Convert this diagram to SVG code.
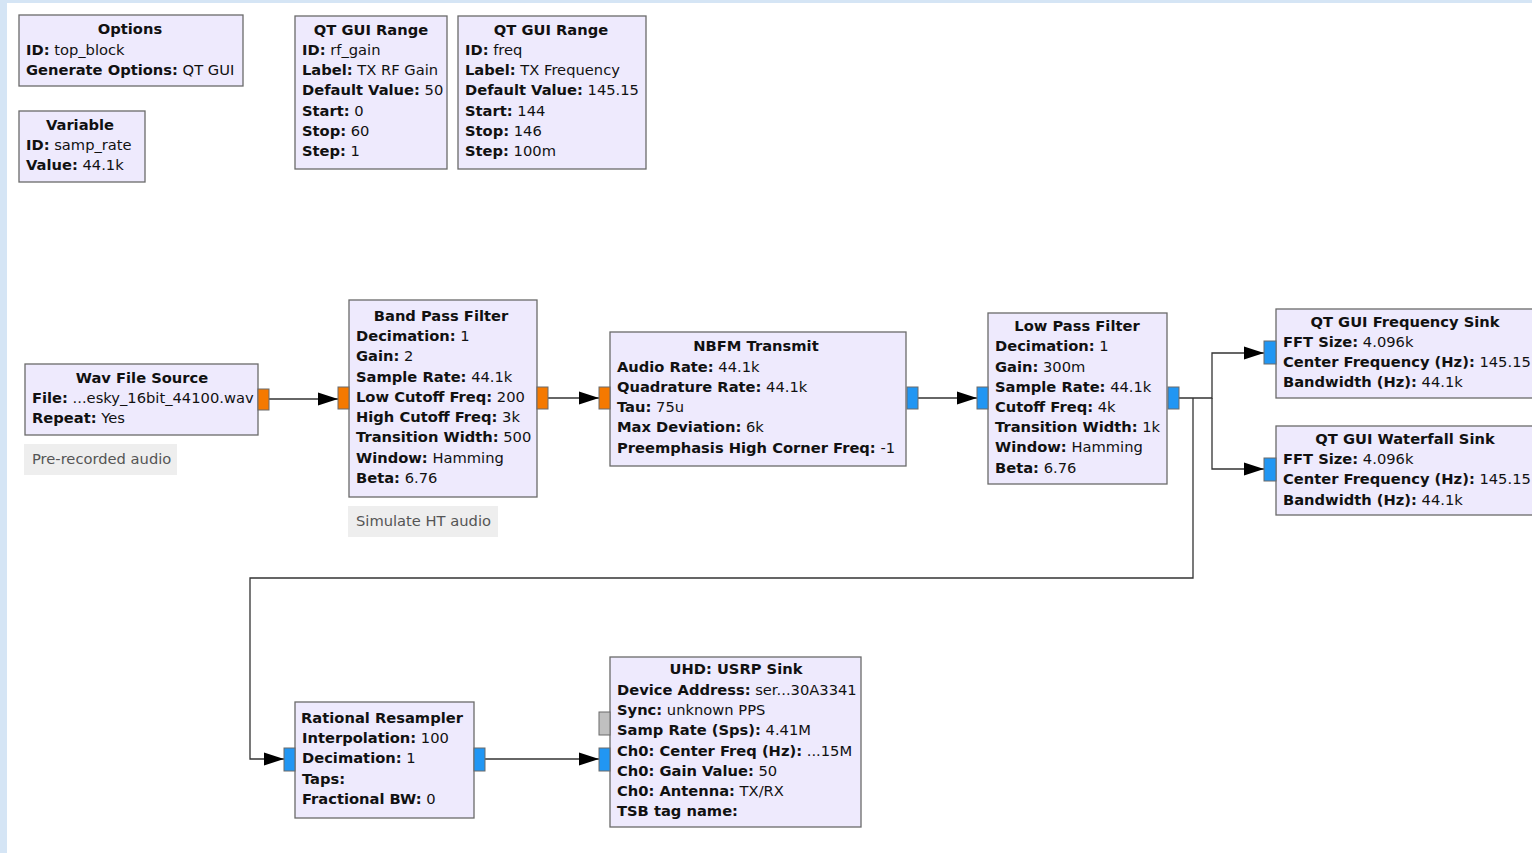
<svg xmlns="http://www.w3.org/2000/svg" width="1532" height="853" viewBox="0 0 1532 853">
  <defs>
    <marker id="arrow" markerUnits="userSpaceOnUse" markerWidth="20" markerHeight="14" refX="20" refY="7" orient="auto">
      <path d="M0,0.5 L20,7 L0,13.5 z" fill="#000"/>
    </marker>
    <style>
      .blk { fill: #eeeafd; stroke: #6a6a6a; stroke-width: 1.3; }
      .t { font-family: "DejaVu Sans", sans-serif; font-size: 14.7px; fill: #111; }
      .ttl { font-weight: bold; text-anchor: middle; }
      .b { font-weight: bold; }
      .pf { fill: #f57900; stroke: #6a6a6a; stroke-width: 1; }
      .pc { fill: #2196f3; stroke: #6a6a6a; stroke-width: 1; }
      .pm { fill: #c0c0c0; stroke: #6a6a6a; stroke-width: 1; }
      .wire { fill: none; stroke: #333; stroke-width: 1.3; }
      .cbg { fill: #eeeeee; }
      .ctx { font-family: "DejaVu Sans", sans-serif; font-size: 14.7px; fill: #555; }
    </style>
  </defs>

  <!-- canvas -->
  <rect x="0" y="0" width="1532" height="853" fill="#d5e5f5"/>
  <rect x="7" y="3" width="1525" height="850" fill="#ffffff"/>

  <!-- connectors -->
  <g id="connectors">
    <path class="wire" d="M269,399 H338" marker-end="url(#arrow)"/>
    <path class="wire" d="M548,398 H599" marker-end="url(#arrow)"/>
    <path class="wire" d="M918,398 H977" marker-end="url(#arrow)"/>
    <path class="wire" d="M1179,398 H1212 V353 H1264" marker-end="url(#arrow)"/>
    <path class="wire" d="M1212,398 V469 H1264" marker-end="url(#arrow)"/>
    <path class="wire" d="M1193,398 V578 H250 V759 H284" marker-end="url(#arrow)"/>
    <path class="wire" d="M485,759 H599" marker-end="url(#arrow)"/>
  </g>

  <g id="options">
    <rect class="blk" x="19" y="15" width="224" height="71"/>
    <text class="t ttl" x="130" y="34">Options</text>
    <text class="t" x="26" y="55"><tspan class="b">ID:</tspan> top_block</text>
    <text class="t" x="26" y="75"><tspan class="b">Generate Options:</tspan> QT GUI</text>
  </g>

  <g id="variable">
    <rect class="blk" x="19" y="111" width="126" height="71"/>
    <text class="t ttl" x="80" y="130">Variable</text>
    <text class="t" x="26" y="150"><tspan class="b">ID:</tspan> samp_rate</text>
    <text class="t" x="26" y="170"><tspan class="b">Value:</tspan> 44.1k</text>
  </g>

  <g id="range_rf_gain">
    <rect class="blk" x="295" y="16" width="152" height="153"/>
    <text class="t ttl" x="371" y="35">QT GUI Range</text>
    <text class="t" x="302" y="55"><tspan class="b">ID:</tspan> rf_gain</text>
    <text class="t" x="302" y="75"><tspan class="b">Label:</tspan> TX RF Gain</text>
    <text class="t" x="302" y="95"><tspan class="b">Default Value:</tspan> 50</text>
    <text class="t" x="302" y="116"><tspan class="b">Start:</tspan> 0</text>
    <text class="t" x="302" y="136"><tspan class="b">Stop:</tspan> 60</text>
    <text class="t" x="302" y="156"><tspan class="b">Step:</tspan> 1</text>
  </g>

  <g id="range_freq">
    <rect class="blk" x="458" y="16" width="188" height="153"/>
    <text class="t ttl" x="551" y="35">QT GUI Range</text>
    <text class="t" x="465" y="55"><tspan class="b">ID:</tspan> freq</text>
    <text class="t" x="465" y="75"><tspan class="b">Label:</tspan> TX Frequency</text>
    <text class="t" x="465" y="95"><tspan class="b">Default Value:</tspan> 145.15</text>
    <text class="t" x="465" y="116"><tspan class="b">Start:</tspan> 144</text>
    <text class="t" x="465" y="136"><tspan class="b">Stop:</tspan> 146</text>
    <text class="t" x="465" y="156"><tspan class="b">Step:</tspan> 100m</text>
  </g>

  <g id="wav_source">
    <rect class="blk" x="25" y="364" width="233" height="71"/>
    <rect class="pf" x="258" y="389" width="11" height="21"/>
    <text class="t ttl" x="142" y="383">Wav File Source</text>
    <text class="t" x="32" y="403"><tspan class="b">File:</tspan> ...esky_16bit_44100.wav</text>
    <text class="t" x="32" y="423"><tspan class="b">Repeat:</tspan> Yes</text>
    <rect class="cbg" x="24" y="444" width="153" height="31"/>
    <text class="ctx" x="32" y="464">Pre-recorded audio</text>
  </g>

  <g id="band_pass">
    <rect class="blk" x="349" y="300" width="188" height="197"/>
    <rect class="pf" x="338" y="387" width="11" height="22"/>
    <rect class="pf" x="537" y="387" width="11" height="22"/>
    <text class="t ttl" x="441" y="321">Band Pass Filter</text>
    <text class="t" x="356" y="341"><tspan class="b">Decimation:</tspan> 1</text>
    <text class="t" x="356" y="361"><tspan class="b">Gain:</tspan> 2</text>
    <text class="t" x="356" y="382"><tspan class="b">Sample Rate:</tspan> 44.1k</text>
    <text class="t" x="356" y="402"><tspan class="b">Low Cutoff Freq:</tspan> 200</text>
    <text class="t" x="356" y="422"><tspan class="b">High Cutoff Freq:</tspan> 3k</text>
    <text class="t" x="356" y="442"><tspan class="b">Transition Width:</tspan> 500</text>
    <text class="t" x="356" y="463"><tspan class="b">Window:</tspan> Hamming</text>
    <text class="t" x="356" y="483"><tspan class="b">Beta:</tspan> 6.76</text>
    <rect class="cbg" x="348" y="506" width="150" height="31"/>
    <text class="ctx" x="356" y="526">Simulate HT audio</text>
  </g>

  <g id="nbfm_tx">
    <rect class="blk" x="610" y="332" width="296" height="134"/>
    <rect class="pf" x="599" y="387" width="11" height="22"/>
    <rect class="pc" x="907" y="387" width="11" height="22"/>
    <text class="t ttl" x="756" y="351">NBFM Transmit</text>
    <text class="t" x="617" y="372"><tspan class="b">Audio Rate:</tspan> 44.1k</text>
    <text class="t" x="617" y="392"><tspan class="b">Quadrature Rate:</tspan> 44.1k</text>
    <text class="t" x="617" y="412"><tspan class="b">Tau:</tspan> 75u</text>
    <text class="t" x="617" y="432"><tspan class="b">Max Deviation:</tspan> 6k</text>
    <text class="t" x="617" y="453"><tspan class="b">Preemphasis High Corner Freq:</tspan> -1</text>
  </g>

  <g id="low_pass">
    <rect class="blk" x="988" y="313" width="179" height="171"/>
    <rect class="pc" x="977" y="387" width="11" height="22"/>
    <rect class="pc" x="1168" y="387" width="11" height="22"/>
    <text class="t ttl" x="1077" y="331">Low Pass Filter</text>
    <text class="t" x="995" y="351"><tspan class="b">Decimation:</tspan> 1</text>
    <text class="t" x="995" y="372"><tspan class="b">Gain:</tspan> 300m</text>
    <text class="t" x="995" y="392"><tspan class="b">Sample Rate:</tspan> 44.1k</text>
    <text class="t" x="995" y="412"><tspan class="b">Cutoff Freq:</tspan> 4k</text>
    <text class="t" x="995" y="432"><tspan class="b">Transition Width:</tspan> 1k</text>
    <text class="t" x="995" y="452"><tspan class="b">Window:</tspan> Hamming</text>
    <text class="t" x="995" y="473"><tspan class="b">Beta:</tspan> 6.76</text>
  </g>

  <g id="freq_sink">
    <rect class="blk" x="1276" y="309" width="270" height="89"/>
    <rect class="pc" x="1264" y="341" width="12" height="23"/>
    <text class="t ttl" x="1405" y="327">QT GUI Frequency Sink</text>
    <text class="t" x="1283" y="347"><tspan class="b">FFT Size:</tspan> 4.096k</text>
    <text class="t" x="1283" y="367"><tspan class="b">Center Frequency (Hz):</tspan> 145.15</text>
    <text class="t" x="1283" y="387"><tspan class="b">Bandwidth (Hz):</tspan> 44.1k</text>
  </g>

  <g id="waterfall_sink">
    <rect class="blk" x="1276" y="426" width="270" height="89"/>
    <rect class="pc" x="1264" y="458" width="12" height="23"/>
    <text class="t ttl" x="1405" y="444">QT GUI Waterfall Sink</text>
    <text class="t" x="1283" y="464"><tspan class="b">FFT Size:</tspan> 4.096k</text>
    <text class="t" x="1283" y="484"><tspan class="b">Center Frequency (Hz):</tspan> 145.15</text>
    <text class="t" x="1283" y="505"><tspan class="b">Bandwidth (Hz):</tspan> 44.1k</text>
  </g>

  <g id="resampler">
    <rect class="blk" x="295" y="702" width="179" height="116"/>
    <rect class="pc" x="284" y="748" width="11" height="23"/>
    <rect class="pc" x="474" y="748" width="11" height="23"/>
    <text class="t ttl" x="382" y="723">Rational Resampler</text>
    <text class="t" x="302" y="743"><tspan class="b">Interpolation:</tspan> 100</text>
    <text class="t" x="302" y="763"><tspan class="b">Decimation:</tspan> 1</text>
    <text class="t" x="302" y="784"><tspan class="b">Taps:</tspan></text>
    <text class="t" x="302" y="804"><tspan class="b">Fractional BW:</tspan> 0</text>
  </g>

  <g id="usrp_sink">
    <rect class="blk" x="610" y="657" width="251" height="170"/>
    <rect class="pm" x="599" y="712" width="11" height="23"/>
    <rect class="pc" x="599" y="748" width="11" height="23"/>
    <text class="t ttl" x="736" y="674">UHD: USRP Sink</text>
    <text class="t" x="617" y="695"><tspan class="b">Device Address:</tspan> ser...30A3341</text>
    <text class="t" x="617" y="715"><tspan class="b">Sync:</tspan> unknown PPS</text>
    <text class="t" x="617" y="735"><tspan class="b">Samp Rate (Sps):</tspan> 4.41M</text>
    <text class="t" x="617" y="756"><tspan class="b">Ch0: Center Freq (Hz):</tspan> ...15M</text>
    <text class="t" x="617" y="776"><tspan class="b">Ch0: Gain Value:</tspan> 50</text>
    <text class="t" x="617" y="796"><tspan class="b">Ch0: Antenna:</tspan> TX/RX</text>
    <text class="t" x="617" y="816"><tspan class="b">TSB tag name:</tspan></text>
  </g>
</svg>
